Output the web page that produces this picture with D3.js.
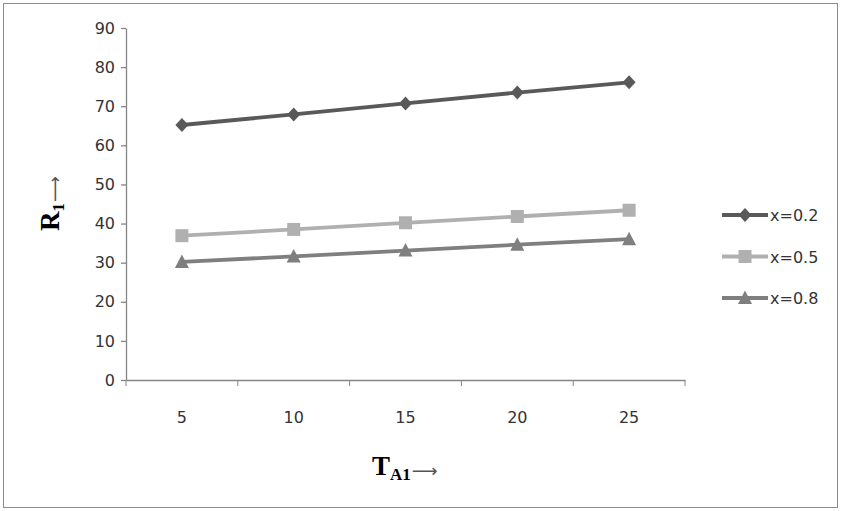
<!DOCTYPE html>
<html>
<head>
<meta charset="utf-8">
<script src="https://cdn.jsdelivr.net/npm/d3@7"></script>
<style>
  body { margin: 0; background: #fff; }
  svg { display: block; }
</style>
</head>
<body>
<svg id="chart" width="842" height="511"></svg>
<script>
// chart data
const categories = ["5", "10", "15", "20", "25"];
const seriesNames = ["x=0.2", "x=0.5", "x=0.8"];
const valuesA = [65.2, 67.9, 70.7, 73.5, 76.1];
const valuesB = [36.9, 38.5, 40.2, 41.8, 43.4];
const valuesC = [30.2, 31.6, 33.1, 34.6, 36.0];
const yTicks = [0, 10, 20, 30, 40, 50, 60, 70, 80, 90];

const colors = ["#595959", "#b0b0b0", "#7f7f7f"];

// marker shapes, drawn around 0,0
const markerPaths = [
  "M0,-7L6.5,0L0,7L-6.5,0Z",
  "M-6.5,-6.5H6.5V6.5H-6.5Z",
  "M0,-7.5L7,6L-7,6Z"
];

const svg = d3.select("#chart");

// outer frame
svg.append("rect")
    .attr("x", 3.5).attr("y", 3.5)
    .attr("width", 834).attr("height", 504)
    .attr("fill", "#fff")
    .attr("stroke", "#8c8c8c")
    .attr("stroke-width", 1);

const plot = { left: 126, right: 685, top: 28, bottom: 380 };

const x = d3.scaleBand().domain(categories).range([plot.left, plot.right]);
const y = d3.scaleLinear().domain([0, 90]).range([plot.bottom, plot.top]);

const axisColor = "#868686";
const tickFont = "DejaVu Sans, Verdana, sans-serif";

// y axis
const gy = svg.append("g")
    .attr("transform", "translate(" + plot.left + ",0)")
    .call(d3.axisLeft(y).tickValues(yTicks).tickSize(5).tickSizeOuter(0).tickPadding(6));
// x axis
const gx = svg.append("g")
    .attr("transform", "translate(0," + plot.bottom + ")")
    .call(d3.axisBottom(x).tickSize(0).tickSizeOuter(0).tickPadding(32));

// band boundary ticks like the original
gx.selectAll(".bound")
    .data(categories.concat(["end"]))
    .enter().append("line")
    .attr("class", "bound")
    .attr("x1", (d, i) => i < categories.length ? x(d) : plot.right)
    .attr("x2", (d, i) => i < categories.length ? x(d) : plot.right)
    .attr("y1", 0).attr("y2", 6)
    .attr("stroke", axisColor);

[gx, gy].forEach(g => {
  g.selectAll(".domain").attr("stroke", axisColor).attr("stroke-width", 1.3);
  g.selectAll(".tick line").attr("stroke", axisColor).attr("stroke-width", 1.3);
  g.selectAll("text")
      .attr("fill", "#333")
      .style("font-family", tickFont)
      .style("font-size", "16px");
});

// series
const allSeries = [valuesA, valuesB, valuesC];
const line = d3.line()
    .x((d, i) => x(categories[i]) + x.bandwidth() / 2)
    .y(d => y(d));

allSeries.forEach((vals, s) => {
  svg.append("path")
      .datum(vals)
      .attr("d", line)
      .attr("fill", "none")
      .attr("stroke", colors[s])
      .attr("stroke-width", 3.8);
  svg.selectAll(".m" + s)
      .data(vals)
      .enter().append("path")
      .attr("class", "m" + s)
      .attr("d", markerPaths[s])
      .attr("transform", (d, i) => "translate(" + (x(categories[i]) + x.bandwidth() / 2) + "," + y(d) + ")")
      .attr("fill", colors[s]);
});

// legend
const legend = svg.append("g").attr("transform", "translate(722,215)");
seriesNames.forEach((name, s) => {
  const g = legend.append("g").attr("transform", "translate(0," + (s * 41.5) + ")");
  g.append("line")
      .attr("x1", 0).attr("x2", 46)
      .attr("stroke", colors[s]).attr("stroke-width", 3.8);
  g.append("path")
      .attr("d", markerPaths[s])
      .attr("transform", "translate(23,0)")
      .attr("fill", colors[s]);
  g.append("text")
      .attr("x", 48).attr("y", 6)
      .attr("fill", "#333")
      .style("font-family", tickFont)
      .style("font-size", "16px")
      .text(name);
});

// axis titles
const titleFont = "Liberation Serif, Times New Roman, serif";
const arrowFont = "DejaVu Sans, sans-serif";
const xt = svg.append("text")
    .attr("x", 372).attr("y", 475)
    .style("font-family", titleFont)
    .style("font-weight", "bold")
    .style("font-size", "27px")
    .attr("fill", "#000");
xt.append("tspan").text("T");
xt.append("tspan").attr("dy", 5).style("font-size", "17px").text("A1");
xt.append("tspan").attr("dy", -3).attr("dx", 1)
    .style("font-family", arrowFont).style("font-size", "18px")
    .style("font-weight", "normal").attr("fill", "#555").text("\u27F6");

const yt = svg.append("text")
    .attr("transform", "translate(59,231) rotate(-90)")
    .style("font-family", titleFont)
    .style("font-weight", "bold")
    .style("font-size", "27px")
    .attr("fill", "#000");
yt.append("tspan").text("R");
yt.append("tspan").attr("dy", 5).style("font-size", "17px").text("1");
yt.append("tspan").attr("dy", -3).attr("dx", 1)
    .style("font-family", arrowFont).style("font-size", "18px")
    .style("font-weight", "normal").attr("fill", "#555").text("\u27F6");
</script>
</body>
</html>
